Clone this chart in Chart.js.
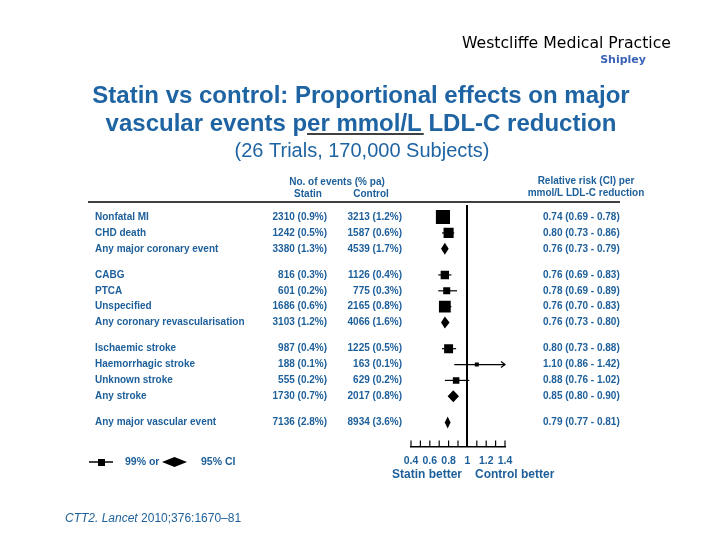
<!DOCTYPE html>
<html>
<head>
<meta charset="utf-8">
<script src="https://cdn.jsdelivr.net/npm/chart.js@4.4.1/dist/chart.umd.min.js"></script>
<style>
  html, body { margin: 0; padding: 0; background: #fff; }
  #forest { display: block; }
</style>
</head>
<body>
<canvas id="forest" width="720" height="540"></canvas>
<script>
// rows of the forest plot, top to bottom
const OUTCOMES = [
  "Nonfatal MI",
  "CHD death",
  "Any major coronary event",
  "CABG",
  "PTCA",
  "Unspecified",
  "Any coronary revascularisation",
  "Ischaemic stroke",
  "Haemorrhagic stroke",
  "Unknown stroke",
  "Any stroke",
  "Any major vascular event",
];
const GROUP = [0, 0, 0, 1, 1, 1, 1, 2, 2, 2, 2, 3];
const IS_TOTAL = [false, false, true, false, false, false, true, false, false, false, true, true];

const STATIN_EVENTS = [2310, 1242, 3380, 816, 601, 1686, 3103, 987, 188, 555, 1730, 7136];
const STATIN_PCT = [0.9, 0.5, 1.3, 0.3, 0.2, 0.6, 1.2, 0.4, 0.1, 0.2, 0.7, 2.8];
const CONTROL_EVENTS = [3213, 1587, 4539, 1126, 775, 2165, 4066, 1225, 163, 629, 2017, 8934];
const CONTROL_PCT = [1.2, 0.6, 1.7, 0.4, 0.3, 0.8, 1.6, 0.5, 0.1, 0.2, 0.8, 3.6];

const RR = [0.74, 0.80, 0.76, 0.76, 0.78, 0.76, 0.76, 0.80, 1.10, 0.88, 0.85, 0.79];
const RR_LO = [0.69, 0.73, 0.73, 0.69, 0.69, 0.70, 0.73, 0.73, 0.86, 0.76, 0.80, 0.77];
const RR_HI = [0.78, 0.86, 0.79, 0.83, 0.89, 0.83, 0.80, 0.88, 1.42, 1.02, 0.90, 0.81];

const X_TICKS = [0.4, 0.6, 0.8, 1, 1.2, 1.4];


const BLUE = "#1d5f9a";
const FONT = "'Liberation Sans', Arial, sans-serif";

// row position on the y scale: one unit per row, extra gap between groups
const yPos = OUTCOMES.map((_, i) => i + GROUP[i] * 0.65);

// square side grows with the number of events
function boxSide(i) {
  return Math.max(4, 0.19 * Math.sqrt(STATIN_EVENTS[i] + CONTROL_EVENTS[i]));
}

function fmtPct(n, p) {
  return n + " (" + p.toFixed(1) + "%)";
}

function fmtRR(i) {
  return RR[i].toFixed(2) + " (" + RR_LO[i].toFixed(2) + " - " + RR_HI[i].toFixed(2) + ")";
}

const squareRows = OUTCOMES.map((_, i) => i).filter(i => !IS_TOTAL[i]);


const forestMarks = {
  id: "forestMarks",
  beforeDatasetsDraw(chart) {
    const { ctx, scales: { x, y } } = chart;
    ctx.save();
    ctx.strokeStyle = "#000";
    ctx.fillStyle = "#000";
    ctx.lineWidth = 1.2;
    squareRows.forEach(i => {
      const py = y.getPixelForValue(yPos[i]);
      const hi = Math.min(RR_HI[i], x.max);
      ctx.beginPath();
      ctx.moveTo(x.getPixelForValue(RR_LO[i]), py);
      ctx.lineTo(x.getPixelForValue(hi), py);
      ctx.stroke();
      if (RR_HI[i] > x.max) {
        const ex = x.getPixelForValue(x.max);
        ctx.beginPath();
        ctx.moveTo(ex - 4, py - 3);
        ctx.lineTo(ex, py);
        ctx.lineTo(ex - 4, py + 3);
        ctx.stroke();
      }
    });
    ctx.restore();
  },
  afterDatasetsDraw(chart) {
    const { ctx, scales: { x, y } } = chart;
    ctx.save();
    ctx.fillStyle = "#000";
    OUTCOMES.forEach((_, i) => {
      if (!IS_TOTAL[i]) return;
      const py = y.getPixelForValue(yPos[i]);
      const cx = x.getPixelForValue(RR[i]);
      ctx.beginPath();
      ctx.moveTo(x.getPixelForValue(RR_LO[i]) - 1, py);
      ctx.lineTo(cx, py - 6);
      ctx.lineTo(x.getPixelForValue(RR_HI[i]) + 1, py);
      ctx.lineTo(cx, py + 6);
      ctx.closePath();
      ctx.fill();
    });
    // upward tick marks on the x axis
    ctx.strokeStyle = "#000";
    ctx.lineWidth = 1.2;
    x.ticks.forEach(t => {
      const px = x.getPixelForValue(t.value);
      ctx.beginPath();
      ctx.moveTo(px, x.top);
      ctx.lineTo(px, x.top - 6);
      ctx.stroke();
    });
    ctx.restore();
  },
};


const slideText = {
  id: "slideText",
  afterDraw(chart) {
    const { ctx, scales: { x, y } } = chart;
    ctx.save();
    ctx.textBaseline = "middle";

    // practice header
    ctx.fillStyle = "#000";
    ctx.textAlign = "right";
    ctx.font = "15.7px 'DejaVu Sans', Verdana, sans-serif";
    ctx.fillText("Westcliffe Medical Practice", 671, 44);
    ctx.fillStyle = "#3a63b8";
    ctx.font = "bold 11px 'DejaVu Sans', Verdana, sans-serif";
    ctx.fillText("Shipley", 646, 60);

    // title
    ctx.fillStyle = "#1e64a3";
    ctx.textAlign = "center";
    ctx.font = "bold 24px " + FONT;
    ctx.fillText("Statin vs control: Proportional effects on major", 361, 96);
    const line2 = "vascular events per mmol/L LDL-C reduction";
    ctx.fillText(line2, 361, 124);
    const start = 361 - ctx.measureText(line2).width / 2;
    const u0 = start + ctx.measureText("vascular events p").width;
    const u1 = start + ctx.measureText("vascular events per mmol/L").width;
    ctx.font = "20px " + FONT;
    ctx.fillText("(26 Trials, 170,000 Subjects)", 362, 151);
    ctx.strokeStyle = "#000";
    ctx.lineWidth = 1.5;
    ctx.beginPath();
    ctx.moveTo(u0, 134);
    ctx.lineTo(u1 + 2, 134);
    ctx.stroke();

    // column headings and rule
    ctx.fillStyle = BLUE;
    ctx.font = "bold 10px " + FONT;
    ctx.fillText("No. of events (% pa)", 337, 182);
    ctx.fillText("Statin", 308, 194);
    ctx.fillText("Control", 371, 194);
    ctx.fillText("Relative risk (CI) per", 586, 181);
    ctx.fillText("mmol/L LDL-C reduction", 586, 193);
    ctx.lineWidth = 1.3;
    ctx.beginPath();
    ctx.moveTo(88, 202);
    ctx.lineTo(620, 202);
    ctx.stroke();

    // table rows
    OUTCOMES.forEach((name, i) => {
      const py = y.getPixelForValue(yPos[i]);
      ctx.textAlign = "left";
      ctx.fillText(name, 95, py);
      ctx.fillText(fmtRR(i), 543, py);
      ctx.textAlign = "right";
      ctx.fillText(fmtPct(STATIN_EVENTS[i], STATIN_PCT[i]), 327, py);
      ctx.fillText(fmtPct(CONTROL_EVENTS[i], CONTROL_PCT[i]), 402, py);
    });

    // favours labels
    ctx.font = "bold 12px " + FONT;
    ctx.textAlign = "right";
    ctx.fillText("Statin better", 462, 475);
    ctx.textAlign = "left";
    ctx.fillText("Control better", 475, 475);

    // legend
    ctx.fillStyle = "#000";
    ctx.strokeStyle = "#000";
    ctx.lineWidth = 1.5;
    ctx.beginPath();
    ctx.moveTo(89, 462);
    ctx.lineTo(113, 462);
    ctx.stroke();
    ctx.fillRect(98, 459, 7, 7);
    ctx.beginPath();
    ctx.moveTo(162, 462);
    ctx.lineTo(174.5, 457);
    ctx.lineTo(187, 462);
    ctx.lineTo(174.5, 467);
    ctx.closePath();
    ctx.fill();
    ctx.fillStyle = BLUE;
    ctx.font = "bold 10.5px " + FONT;
    ctx.fillText("99% or", 125, 462);
    ctx.fillText("95% CI", 201, 462);

    // source
    ctx.font = "italic 12px " + FONT;
    const src = "CTT2. Lancet";
    ctx.fillText(src, 65, 519);
    const w = ctx.measureText(src + " ").width;
    ctx.font = "12px " + FONT;
    ctx.fillText("2010;376:1670\u201381", 65 + w, 519);
    ctx.restore();
  },
};


function drawChart() {
  const ctx = document.getElementById("forest");
  return new Chart(ctx, {
    type: "scatter",
    data: {
      datasets: [
        {
          data: squareRows.map(i => ({ x: RR[i], y: yPos[i] })),
          pointStyle: "rect",
          pointRadius: squareRows.map(i => boxSide(i) / Math.SQRT2),
          backgroundColor: "#000",
          borderColor: "#000",
          borderWidth: 0,
        },
      ],
    },
    options: {
      responsive: false,
      animation: false,
      events: [],
      layout: {
        padding: { left: 411, right: 215, top: 205, bottom: 65 },
      },
      plugins: {
        legend: { display: false },
        tooltip: { enabled: false },
      },
      scales: {
        x: {
          type: "linear",
          min: 0.4,
          max: 1.4,
          ticks: {
            stepSize: 0.1,
            autoSkip: false,
            maxRotation: 0,
            padding: 8,
            color: BLUE,
            font: { family: FONT, size: 10.5, weight: "bold" },
            callback: v => {
              const t = X_TICKS.find(t => Math.abs(t - v) < 1e-6);
              if (t === undefined) return "";
              return t === 1 ? "1" : t.toFixed(1);
            },
          },
          grid: {
            drawTicks: false,
            lineWidth: 2,
            color: c => (c.tick && Math.abs(c.tick.value - 1) < 1e-6 ? "#000" : "rgba(0,0,0,0)"),
          },
          border: { display: true, color: "#000", width: 1.5 },
        },
        y: {
          type: "linear",
          display: false,
          reverse: true,
          min: -0.76,
          max: 14.46,
        },
      },
    },
    plugins: [forestMarks, slideText],
  });
}

drawChart();
</script>
</body>
</html>
